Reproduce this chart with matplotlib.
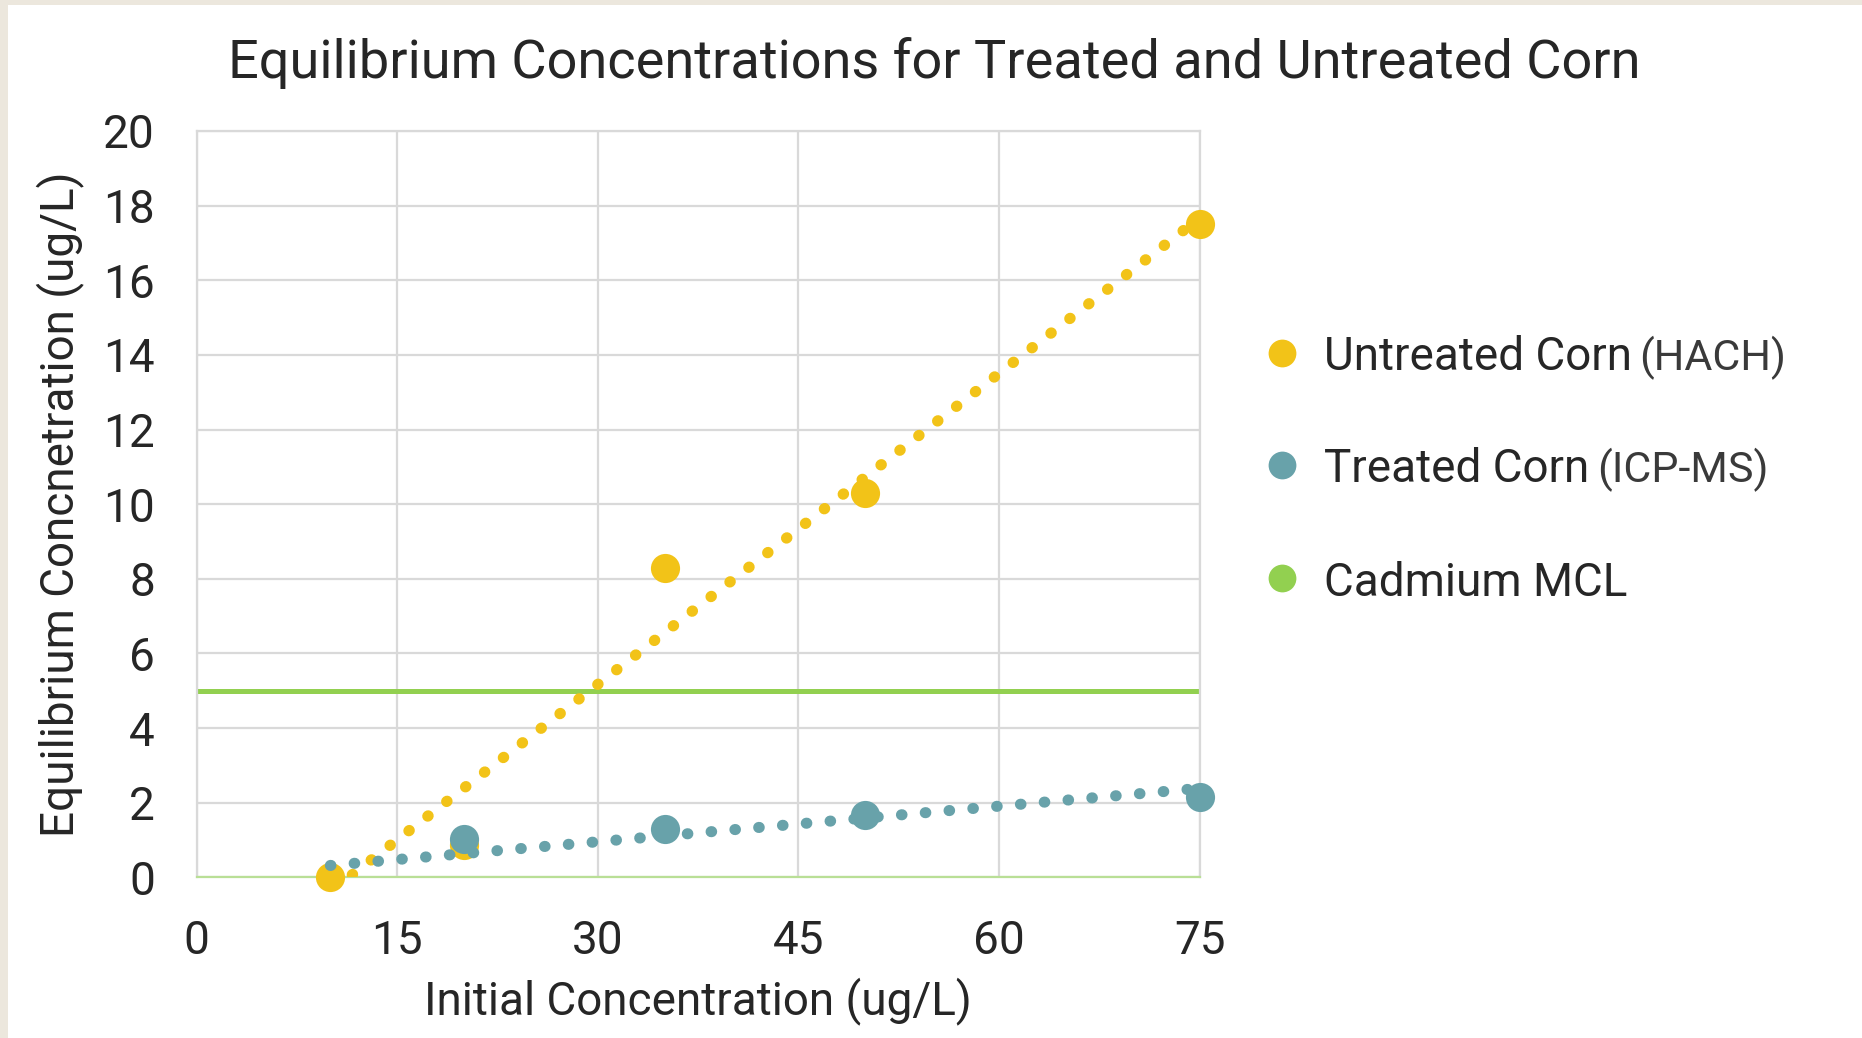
import numpy as np
import matplotlib
matplotlib.use("Agg")
import matplotlib.pyplot as plt
from matplotlib.patches import Rectangle
from matplotlib.lines import Line2D

plt.rcParams['font.family'] = ['Roboto', 'DejaVu Sans']

# === data ===
untreated_x = [10, 20, 35, 50, 75]
untreated_y = [0.0, 0.87, 8.3, 10.3, 17.5]
treated_x = [20, 35, 50, 75]
treated_y = [1.04, 1.29, 1.67, 2.14]
mcl_x = [0, 75]
mcl_y = [5, 5]
trend_x_range = [10, 75]

yellow = '#F2C318'
teal = '#68A2AA'
green = '#92D050'
grid_c = '#D9D9D9'
text_c = '#262626'
beige = '#ECE7DD'

fig = plt.figure(figsize=(18.62, 10.38), dpi=100)
fig.patch.set_facecolor('white')
# beige strips on left and top edges
fig.patches.append(Rectangle((0, 0), 8 / 1862, 1, transform=fig.transFigure,
                             facecolor=beige, edgecolor='none'))
fig.patches.append(Rectangle((0, 1 - 5 / 1038), 1, 5 / 1038, transform=fig.transFigure,
                             facecolor=beige, edgecolor='none'))

ax = fig.add_axes([0.1056, 0.1548, 0.5387, 0.7190])
ax.set_facecolor('white')

# trendlines: linear fit (untreated), linear fit through origin (treated)
tx = np.linspace(trend_x_range[0], trend_x_range[1], 200)
p = np.polyfit(untreated_x, untreated_y, 1)
ty_u = np.polyval(p, tx)
keep = ty_u >= 0
tx_arr = np.array(treated_x, dtype=float)
slope_t = np.sum(tx_arr * np.array(treated_y)) / np.sum(tx_arr ** 2)
ty_t = slope_t * tx

dot = (0, (0.05, 2.1))
ax.plot(mcl_x, mcl_y, color=green, lw=3.6, zorder=2, solid_capstyle='butt')
ax.plot(tx[keep], ty_u[keep], color=yellow, lw=8, linestyle=dot,
        dash_capstyle='round', zorder=3)
ax.plot(untreated_x, untreated_y, 'o', color=yellow, ms=21, mec='none', zorder=4,
        clip_on=False)
ax.plot(tx, ty_t, color=teal, lw=8, linestyle=dot, dash_capstyle='round', zorder=5)
ax.plot(treated_x, treated_y, 'o', color=teal, ms=21, mec='none', zorder=6,
        clip_on=False)

ax.set_xlim(0, 75)
ax.set_ylim(0, 20)
ax.set_xticks([0, 15, 30, 45, 60, 75])
ax.set_yticks(range(0, 21, 2))
ax.grid(True, color=grid_c, lw=1.6, zorder=0)
ax.set_axisbelow(True)
for s in ['top', 'right', 'left']:
    ax.spines[s].set_color(grid_c)
    ax.spines[s].set_linewidth(1.6)
ax.spines['bottom'].set_color('#B9DF96')
ax.spines['bottom'].set_linewidth(1.6)
ax.tick_params(length=0, labelsize=33, colors=text_c, pad=30)

ax.set_xlabel('Initial Concentration (ug/L)', fontsize=33, color=text_c)
ax.xaxis.set_label_coords(0.5, -0.134)
ax.set_ylabel('Equilibrium Concnetration (ug/L)', fontsize=33, color=text_c)
ax.yaxis.set_label_coords(-0.112, 0.5)

fig.text(0.502, 0.925, 'Equilibrium Concentrations for Treated and Untreated Corn',
         ha='center', va='baseline', fontsize=39, color=text_c)

# legend
labels = ['Untreated Corn', 'Treated Corn', 'Cadmium MCL']
suffixes = ['(HACH)', '(ICP-MS)', '']
colors = [yellow, teal, green]
rows_px = [353, 465, 578]
fig.canvas.draw()
renderer = fig.canvas.get_renderer()
for lab, suf, c, ypx in zip(labels, suffixes, colors, rows_px):
    yf = 1 - ypx / 1038
    fig.add_artist(Line2D([1282 / 1862], [yf], marker='o', ms=20, color=c, mec='none',
                          transform=fig.transFigure))
    t = fig.text(1324 / 1862, yf, lab, ha='left', va='center_baseline', fontsize=33,
                 color=text_c)
    if suf:
        bb = t.get_window_extent(renderer)
        fig.text(bb.x1 / 1862 + 0.004, yf, suf, ha='left', va='center_baseline',
                 fontsize=31, color='#3A3A3A',
                 family=['Liberation Sans Narrow', 'Roboto', 'DejaVu Sans'],
                 fontstretch='condensed')

fig.savefig('out.png', dpi=100, facecolor=fig.get_facecolor())
